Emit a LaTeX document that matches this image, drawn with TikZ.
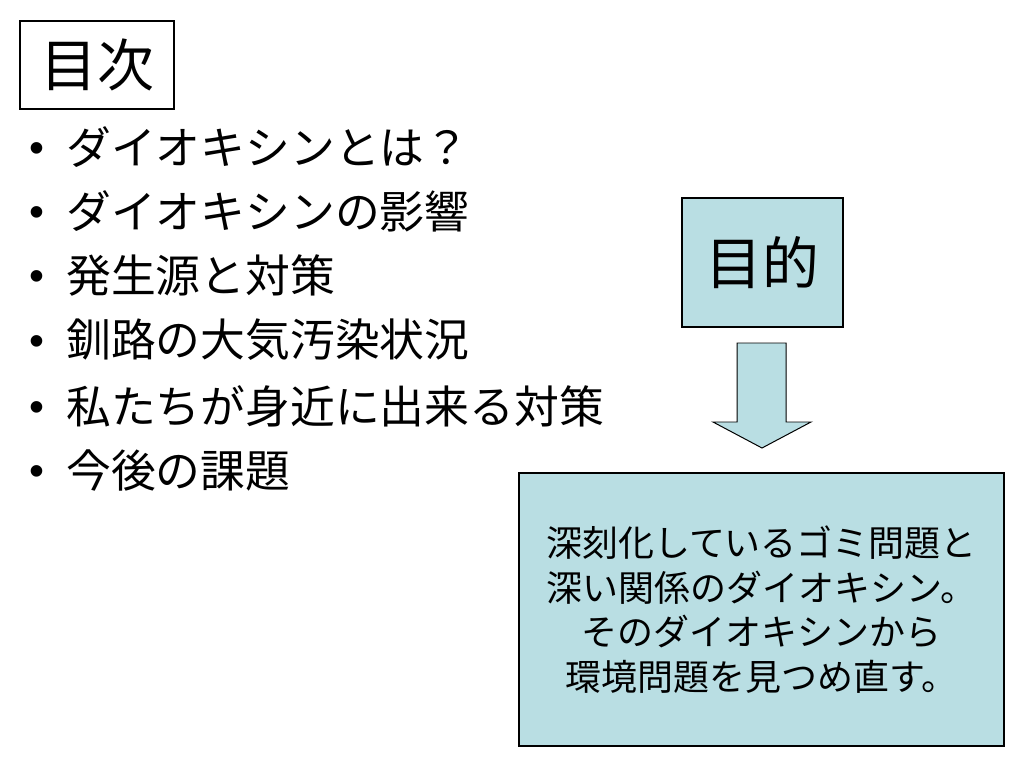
\documentclass[tikz,border=0pt]{standalone}
\usepackage{fontspec}
\setmainfont{Noto Sans CJK JP}
\newfontfamily\bulletfont{Liberation Sans}
\usetikzlibrary{positioning}
\definecolor{boxblue}{RGB}{185,222,227}
\tikzset{
  framebox/.style={draw=black, line width=0.8pt, fill=boxblue, inner sep=0pt},
  itemtext/.style={anchor=west, inner sep=0pt, font=\fontsize{31.5}{38}\selectfont},
  bulletdot/.style={inner sep=0pt, font=\bulletfont\fontsize{30}{36}\selectfont}
}
\begin{document}
\begin{tikzpicture}[x=0.703125pt, y=-0.703125pt]
  \useasboundingbox (0,0) rectangle (1024,768);

  % title
  \node[draw=black, line width=1.4pt, minimum width=108.3pt, minimum height=61.9pt, inner sep=0pt,
        font=\fontsize{40}{48}\selectfont] (title) at (97,65) {目次};

  % list of contents
  \foreach \y/\txt [count=\i] in {147/ダイオキシンとは？, 211/ダイオキシンの影響, 275/発生源と対策,
      340/釧路の大気汚染状況, 406/私たちが身近に出来る対策, 470/今後の課題} {
    \node[bulletdot] (bul\i) at (37,\y+6) {•};
    \node[itemtext] (item\i) at (66,\y) {\txt};
  }

  % purpose
  \node[framebox, minimum width=113.2pt, minimum height=90.7pt,
        font=\fontsize{40}{48}\selectfont] (goal) at (762.5,262.5) {目的};

  \draw[line width=0.7pt, fill=boxblue] (737,343) -- (786,343) -- (786,422) -- (811,422)
      -- (762,448) -- (713,422) -- (737,422) -- cycle;

  \node[framebox, minimum width=341pt, minimum height=192pt, align=center,
        font=\fontsize{25.3}{31.4}\selectfont] (summary) at (761.5,609.5)
      {深刻化しているゴミ問題と\\深い関係のダイオキシン。\\そのダイオキシンから\\環境問題を見つめ直す。};
\end{tikzpicture}
\end{document}
